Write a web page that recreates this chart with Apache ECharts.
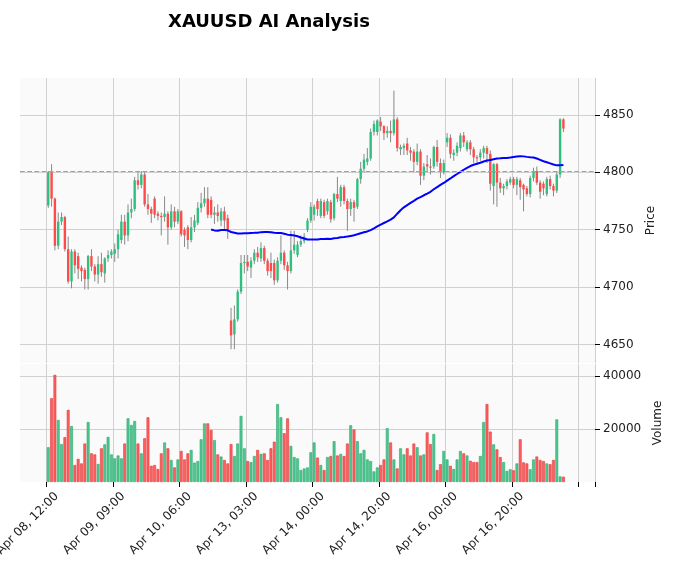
<!DOCTYPE html>
<html><head><meta charset="utf-8">
<script src="https://cdn.jsdelivr.net/npm/echarts@6/dist/echarts.min.js"></script>
<style>html,body{margin:0;padding:0;background:#fff}#c{width:677px;height:576px}</style>
</head><body><div id="c"></div>
<script>
const tickLabels=["Apr 08, 12:00","Apr 09, 09:00","Apr 10, 06:00","Apr 13, 03:00","Apr 14, 00:00","Apr 14, 20:00","Apr 16, 00:00","Apr 16, 20:00",""];
// [open, close, low, high]
const candles=[
[4771,4800,4769,4801],[4800,4777,4770,4807],[4777,4736,4732,4778],[4736,4757,4733,4765],[4757,4761,4754,4765],
[4761,4733,4731,4762],[4733,4705,4703,4744],[4705,4731,4699,4733],[4731,4719,4712,4733],[4727,4716,4707,4730],
[4717,4714,4705,4719],[4715,4707,4698,4717],[4707,4727,4698,4728],[4727,4718,4714,4733],[4718,4711,4705,4720],
[4711,4720,4703,4727],[4720,4713,4709,4730],[4712,4725,4704,4726],[4725,4728,4722,4732],[4728,4731,4725,4733],
[4729,4733,4722,4738],[4733,4746,4725,4750],[4741,4757,4738,4763],[4757,4745,4737,4763],[4745,4765,4740,4772],
[4765,4768,4760,4777],[4768,4793,4766,4796],[4793,4789,4785,4800],[4789,4798,4786,4801],[4798,4772,4770,4800],
[4772,4768,4763,4781],[4768,4764,4756,4770],[4777,4763,4760,4779],[4764,4762,4758,4766],[4762,4761,4745,4765],
[4761,4764,4757,4779],[4764,4752,4737,4766],[4752,4766,4750,4772],[4766,4757,4752,4770],[4757,4766,4755,4768],
[4766,4746,4744,4767],[4750,4745,4735,4752],[4752,4741,4733,4754],[4741,4752,4739,4761],[4752,4758,4748,4763],
[4756,4769,4754,4774],[4769,4773,4765,4782],[4773,4777,4770,4787],[4777,4763,4760,4787],[4776,4763,4760,4779],
[4763,4765,4755,4770],[4765,4762,4757,4772],[4758,4766,4753,4769],[4766,4758,4750,4770],[4760,4750,4742,4763],
[4671,4658,4646,4682],[4659,4672,4646,4684],[4672,4696,4670,4698],[4696,4721,4694,4728],[4721,4722,4712,4728],
[4722,4718,4714,4728],[4717,4723,4708,4726],[4723,4730,4720,4733],[4730,4726,4722,4735],[4725,4734,4722,4739],
[4734,4723,4720,4736],[4723,4714,4710,4725],[4721,4714,4708,4730],[4721,4706,4702,4724],[4706,4723,4704,4726],
[4723,4730,4720,4745],[4730,4719,4715,4732],[4719,4714,4698,4722],[4714,4732,4712,4749],[4732,4737,4729,4749],
[4728,4737,4726,4740],[4737,4740,4735,4745],[4740,4744,4738,4747],[4750,4758,4748,4760],[4758,4770,4756,4774],
[4763,4770,4758,4772],[4775,4768,4762,4777],[4762,4775,4760,4777],[4774,4762,4760,4776],[4766,4775,4763,4777],
[4774,4759,4756,4776],[4760,4781,4758,4782],[4781,4777,4774,4796],[4775,4787,4770,4789],[4787,4775,4772,4789],
[4775,4768,4749,4777],[4768,4774,4762,4777],[4774,4769,4757,4776],[4770,4794,4768,4795],[4794,4803,4790,4809],
[4803,4811,4800,4816],[4809,4812,4806,4821],[4812,4835,4810,4838],[4835,4842,4832,4845],[4835,4845,4832,4846],
[4844,4840,4836,4848],[4840,4834,4828,4841],[4834,4836,4830,4840],[4836,4834,4826,4845],[4834,4846,4832,4871],
[4846,4821,4818,4848],[4820,4822,4815,4824],[4821,4823,4815,4825],[4825,4819,4815,4830],[4819,4817,4810,4822],
[4818,4809,4800,4820],[4809,4818,4806,4825],[4818,4797,4789,4820],[4797,4805,4793,4808],[4807,4805,4800,4815],
[4805,4804,4798,4812],[4805,4822,4803,4823],[4822,4809,4805,4828],[4808,4801,4795,4812],[4800,4808,4798,4811],
[4826,4830,4822,4834],[4830,4816,4812,4833],[4815,4817,4810,4820],[4817,4823,4814,4826],[4821,4832,4818,4834],
[4832,4826,4822,4835],[4820,4826,4818,4828],[4826,4820,4815,4828],[4820,4813,4808,4822],[4813,4812,4807,4815],
[4813,4817,4810,4820],[4817,4821,4812,4823],[4821,4816,4808,4823],[4816,4790,4784,4819],[4788,4807,4772,4808],
[4807,4791,4770,4808],[4791,4786,4782,4795],[4786,4788,4780,4790],[4788,4792,4785,4794],[4791,4794,4789,4796],
[4794,4789,4786,4796],[4789,4794,4780,4796],[4793,4787,4776,4795],[4789,4785,4766,4790],[4786,4781,4779,4788],
[4781,4795,4778,4797],[4795,4801,4792,4804],[4801,4791,4789,4805],[4791,4783,4777,4793],[4790,4786,4780,4792],
[4781,4794,4779,4796],[4794,4788,4785,4797],[4788,4784,4779,4790],[4784,4798,4782,4800],[4798,4846,4795,4847],
[4846,4838,4835,4847]];
const volumes=[13100,31600,40400,23400,14300,16900,27200,21100,6400,8700,7000,14500,22600,10800,10400,6800,12700,14200,17000,10400,
8900,10000,8900,14500,24000,21500,23000,14500,10800,16500,24400,6100,6400,4900,10800,14900,12700,8300,5500,8500,
11700,8500,10800,12100,7300,7900,16100,22100,22100,19600,15800,10400,9600,8300,7000,14300,9800,14500,24900,12700,
7900,7500,9800,12100,10600,10800,8300,12700,15200,29400,24400,18400,24000,13600,9400,8900,4500,5100,5500,11200,
14900,9200,6400,4500,9400,9800,15400,10000,10600,9800,14500,21400,19800,15400,10800,12100,8500,7900,4000,5500,
6400,8500,20300,14900,8500,5100,12700,10400,12700,10000,14500,13100,10000,10400,18700,14300,18100,4500,6700,11700,
8500,6100,4900,8500,11700,10800,10000,8000,7500,7500,9800,22600,29400,19000,14200,12300,9400,7500,4200,4800,
4400,7000,16100,7400,7000,4800,8500,9600,8300,7900,7000,6700,8300,23600,2100,2000];
const refLine=4801;
const maPeriod=50;

const PAD=8, TAIL=9;
const N=candles.length, TOTAL=PAD+N+TAIL;
const cats=[];
for(let i=0;i<TOTAL;i++){const k=i-PAD;cats.push(k>=0&&k%20===0&&k/20<tickLabels.length?(tickLabels[k/20]||' '):'');}
const showTick=(i)=>{const k=i-PAD;return k>=0&&k%20===0&&k/20<tickLabels.length;};
const UP='#2fbf7f', DN='#ff4a4a';
const cData=candles.map((c,i)=>[i+PAD,c[0],c[1],c[2],c[3]]);
const ma=[];
for(let i=maPeriod-1;i<N;i++){let s=0;for(let j=i-maPeriod+1;j<=i;j++)s+=candles[j][1];ma.push([i+PAD,+(s/maPeriod).toFixed(2)]);}
const vData=volumes.slice(0,N).map((v,i)=>{const up=candles[i][1]>=candles[i][0];return {value:[i+PAD,v],itemStyle:{color:up?'#4cc88f':'#ff5f5f',borderColor:up?'#2fa870':'#e03a3a',borderWidth:0.6}};});

const chart=echarts.init(document.getElementById('c'));
const xBase={type:'category',data:cats,boundaryGap:true,axisLine:{show:false},
 splitLine:{show:true,interval:(i)=>showTick(i),lineStyle:{color:'#d0d0d0',width:1}}};
const fmt=(v)=>String(v);
chart.setOption({
 animation:false,backgroundColor:'#fff',
 title:{text:'XAUUSD AI Analysis',left:163,top:8,textStyle:{fontSize:18,fontWeight:'bold',color:'#000',fontFamily:'DejaVu Sans'}},
 grid:[{left:20,right:82,top:78,height:285,backgroundColor:'#fafafa',show:true,borderWidth:0,containLabel:false,outerBoundsMode:'none'},
       {left:20,right:82,top:364,height:118,backgroundColor:'#fafafa',show:true,borderWidth:0,containLabel:false,outerBoundsMode:'none'}],
 xAxis:[Object.assign({},xBase,{gridIndex:0,axisTick:{show:false},axisLabel:{show:false}}),
        Object.assign({},xBase,{gridIndex:1,axisTick:{show:true,interval:(i)=>showTick(i),length:5,lineStyle:{color:'#000'}},
          axisLabel:{show:true,interval:(i)=>showTick(i),rotate:45,fontSize:12,color:'#222',fontFamily:'DejaVu Sans',margin:4,
            verticalAlign:'top',lineHeight:24,hideOverlap:false}})],
 yAxis:[{gridIndex:0,type:'value',position:'right',min:4634,max:4882,scale:true,
   axisTick:{show:true,customValues:[4650,4700,4750,4800,4850],length:5,lineStyle:{color:'#000'}},
   axisLabel:{customValues:[4650,4700,4750,4800,4850],formatter:fmt,fontSize:12,color:'#222',fontFamily:'DejaVu Sans',margin:8},
   axisLine:{show:false},splitLine:{show:true,lineStyle:{color:'#d0d0d0'}},
   name:'Price',nameLocation:'middle',nameGap:48,nameRotate:90,nameTextStyle:{fontSize:12,color:'#222',fontFamily:'DejaVu Sans'}},
  {gridIndex:1,type:'value',position:'right',min:0,max:44500,
   axisTick:{show:true,customValues:[20000,40000],length:5,lineStyle:{color:'#000'}},
   axisLabel:{customValues:[20000,40000],formatter:fmt,fontSize:12,color:'#222',fontFamily:'DejaVu Sans',margin:8},
   axisLine:{show:false},splitLine:{show:true,lineStyle:{color:'#d0d0d0'}},
   name:'Volume',nameLocation:'middle',nameGap:56,nameRotate:90,nameTextStyle:{fontSize:12,color:'#222',fontFamily:'DejaVu Sans'}}],
 series:[
  {type:'custom',xAxisIndex:0,yAxisIndex:0,data:cData,encode:{x:0,y:[1,2,3,4]},z:3,
   renderItem:(params,api)=>{
     const x=api.value(0),o=api.value(1),c=api.value(2),l=api.value(3),h=api.value(4);
     const pO=api.coord([x,o]),pC=api.coord([x,c]),pL=api.coord([x,l]),pH=api.coord([x,h]);
     const w=api.size([1,0])[0]*0.72;
     const top=Math.min(pO[1],pC[1]),ht=Math.max(Math.abs(pO[1]-pC[1]),1);
     return {type:'group',children:[
       {type:'line',shape:{x1:pH[0],y1:pH[1],x2:pL[0],y2:pL[1]},style:{stroke:'#888',lineWidth:1}},
       {type:'rect',shape:{x:pO[0]-w/2,y:top,width:w,height:ht},style:{fill:c>=o?UP:DN}}]};
   }},
  {type:'line',xAxisIndex:0,yAxisIndex:0,data:ma,showSymbol:false,smooth:false,z:4,lineStyle:{color:'#0000ff',width:2},
   markLine:{silent:true,symbol:'none',label:{show:false},lineStyle:{color:'#f08080',type:'dashed',width:1.2},data:[{yAxis:refLine}]}},
  {type:'bar',xAxisIndex:1,yAxisIndex:1,data:vData,barWidth:'85%'}
 ]
});
</script></body></html>
